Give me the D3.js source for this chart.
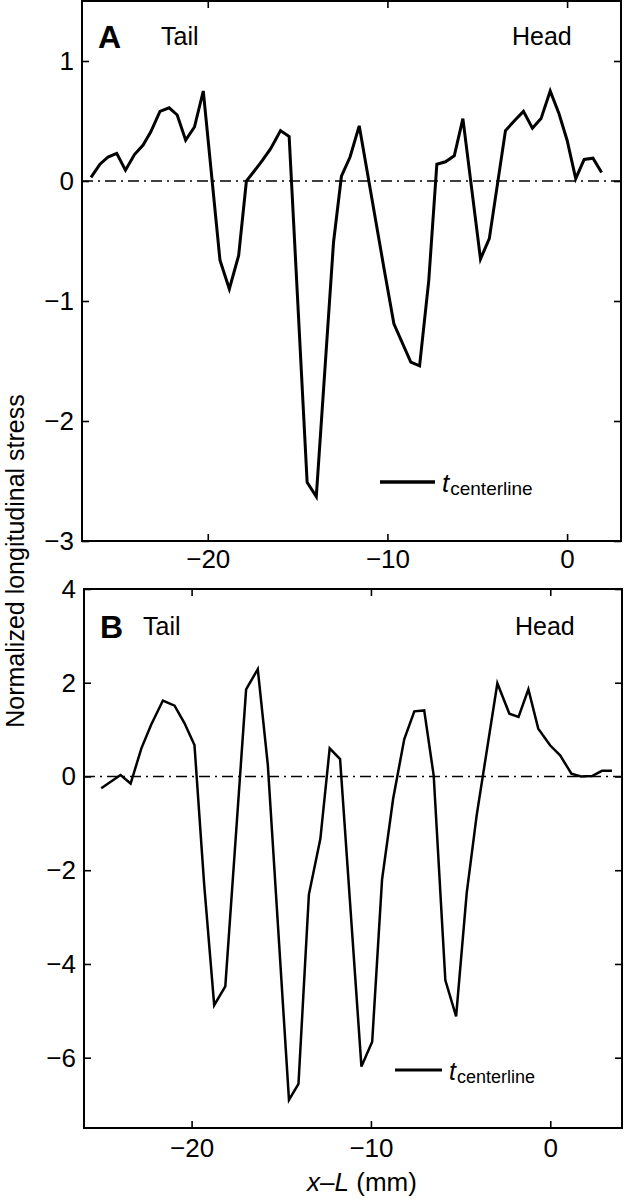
<!DOCTYPE html>
<html lang="en">
<head>
    <meta charset="UTF-8">
    <title>Normalized longitudinal stress</title>
    <script src="https://d3js.org/d3.v7.min.js"></script>
    <style>
        body { margin: 0; background: #fff; }
        svg { display: block; font-family: "Liberation Sans", Arial, Helvetica, sans-serif; }
        .frame { fill: none; stroke: #000; stroke-width: 2px; }
        .zero { stroke: #000; stroke-width: 1.3px; stroke-dasharray: 11,5,2,5; }
        .tick text { font-size: 26px; fill: #000; }
        .tick line { stroke: #000; stroke-width: 1.6px; }
        .lbl { font-size: 25px; fill: #000; }
    </style>
</head>
<body>
    <svg width="624" height="1200"></svg>
    <script>
        // panel A, stress along centerline (x-L in mm)
        const xA = [-26.5, -26.0, -25.55, -25.07, -24.58, -24.08, -23.6, -23.17, -22.66, -22.15,
                    -21.7, -21.23, -20.74, -20.25, -19.32, -18.8, -18.28, -17.85, -17.4, -16.97,
                    -16.5, -15.95, -15.47, -14.47, -13.96, -13.0, -12.56, -12.08, -11.57, -10.2,
                    -9.64, -8.7, -8.21, -7.7, -7.25, -6.77, -6.28, -5.8, -4.82, -4.33,
                    -3.43, -2.88, -2.43, -1.93, -1.45, -0.94, -0.45, 0.0, 0.48, 0.95, 1.44, 1.92];
        const yA = [0.03, 0.14, 0.20, 0.23, 0.09, 0.22, 0.30, 0.41, 0.58, 0.61,
                    0.55, 0.34, 0.45, 0.75, -0.66, -0.90, -0.62, 0.0, 0.085, 0.17,
                    0.27, 0.42, 0.37, -2.51, -2.63, -0.51, 0.04, 0.20, 0.46, -0.72,
                    -1.19, -1.51, -1.54, -0.83, 0.14, 0.16, 0.21, 0.52, -0.65, -0.48,
                    0.42, 0.51, 0.58, 0.44, 0.52, 0.75, 0.56, 0.34, 0.02, 0.18, 0.19, 0.07];

        // panel B
        const xB = [-25.04, -23.96, -23.4, -22.8, -22.25, -21.6, -20.95, -20.4, -19.84, -19.3,
                    -18.74, -18.12, -16.96, -16.31, -15.75, -14.57, -14.04, -13.46, -12.82, -12.3,
                    -11.72, -10.53, -9.93, -9.38, -8.76, -8.14, -7.58, -7.03, -6.5, -5.85,
                    -5.25, -4.66, -4.1, -2.95, -2.28, -1.77, -1.22, -0.67, 0.0, 0.55,
                    1.18, 1.71, 2.33, 2.88, 3.44];
        const yB = [-0.25, 0.03, -0.15, 0.6, 1.11, 1.62, 1.51, 1.14, 0.67, -2.3,
                    -4.88, -4.48, 1.86, 2.29, 0.25, -6.9, -6.56, -2.52, -1.33, 0.6,
                    0.37, -6.19, -5.66, -2.2, -0.47, 0.80, 1.39, 1.41, 0.02, -4.35,
                    -5.12, -2.49, -0.82, 1.99, 1.34, 1.27, 1.86, 1.02, 0.66, 0.45,
                    0.06, 0.0, 0.01, 0.12, 0.12];

        const xTicks = [-20, -10, 0];
        const yTicksA = [-3, -2, -1, 0, 1];
        const yTicksB = [-6, -4, -2, 0, 2, 4];

        const svg = d3.select("svg");
        const fmt = d3.format("d");

        function drawPanel(p) {
            const x = d3.scaleLinear().domain(p.xDomain).range([p.left, p.right]);
            const y = d3.scaleLinear().domain(p.yDomain).range([p.bottom, p.top]);
            const g = svg.append("g");
            const tk = 7;

            // inward ticks on all four sides
            g.append("g").attr("transform", `translate(0,${p.bottom})`)
                .call(d3.axisBottom(x).tickValues(xTicks).tickFormat(fmt)
                    .tickSizeInner(-tk).tickSizeOuter(0).tickPadding(p.xPad))
                .call(a => a.select(".domain").remove());
            g.append("g").attr("transform", `translate(0,${p.top})`)
                .call(d3.axisTop(x).tickValues(xTicks).tickSizeInner(-tk).tickSizeOuter(0).tickFormat(""))
                .call(a => a.select(".domain").remove());
            g.append("g").attr("transform", `translate(${p.left},0)`)
                .call(d3.axisLeft(y).tickValues(p.yTicks).tickFormat(fmt)
                    .tickSizeInner(-tk).tickSizeOuter(0).tickPadding(8))
                .call(a => a.select(".domain").remove());
            g.append("g").attr("transform", `translate(${p.right},0)`)
                .call(d3.axisRight(y).tickValues(p.yTicks).tickSizeInner(-tk).tickSizeOuter(0).tickFormat(""))
                .call(a => a.select(".domain").remove());

            g.selectAll(".tick text").attr("font-family", null).attr("font-size", null);

            g.append("line").attr("class", "zero")
                .attr("x1", p.left).attr("x2", p.right)
                .attr("y1", y(0)).attr("y2", y(0));

            const pts = p.xs.map((v, i) => [v, p.ys[i]]);
            g.append("path")
                .datum(pts)
                .attr("fill", "none")
                .attr("stroke", "#000")
                .attr("stroke-width", p.lw)
                .attr("stroke-linejoin", "miter")
                .attr("d", d3.line().x(d => x(d[0])).y(d => y(d[1])));

            g.append("rect").attr("class", "frame")
                .attr("x", p.left).attr("y", p.top)
                .attr("width", p.right - p.left).attr("height", p.bottom - p.top);

            // panel letter and orientation labels
            g.append("text").attr("x", p.left + 16).attr("y", p.labelY + 3)
                .attr("font-size", 32).attr("font-weight", "bold").text(p.letter);
            g.append("text").attr("class", "lbl").attr("x", p.tailX).attr("y", p.labelY).text("Tail");
            g.append("text").attr("class", "lbl").attr("x", p.headX).attr("y", p.labelY).text("Head");

            // legend
            g.append("line")
                .attr("x1", p.leg[0]).attr("x2", p.leg[1])
                .attr("y1", p.leg[2]).attr("y2", p.leg[2])
                .attr("stroke", "#000").attr("stroke-width", p.lw + 0.3);
            const t = g.append("text").attr("x", p.leg[1] + 7).attr("y", p.leg[2] + 10);
            t.append("tspan").attr("font-style", "italic").attr("font-size", p.legSize).text("t");
            t.append("tspan").attr("font-size", p.legSize - 7).attr("dy", 3).attr("dx", 1).text("centerline");
        }

        drawPanel({
            left: 82, right: 621, top: 1, bottom: 541,
            xDomain: [-27, 3], yDomain: [-3, 1.5],
            yTicks: yTicksA, xs: xA, ys: yA, lw: 3, xPad: 9,
            letter: "A", labelY: 45, tailX: 161, headX: 512,
            leg: [380, 435, 482], legSize: 26
        });

        drawPanel({
            left: 84, right: 622, top: 589, bottom: 1128,
            xDomain: [-26, 4], yDomain: [-7.5, 4],
            yTicks: yTicksB, xs: xB, ys: yB, lw: 2.5, xPad: 11,
            letter: "B", labelY: 635, tailX: 143, headX: 515,
            leg: [395, 442, 1070], legSize: 25
        });

        // shared axis titles
        svg.append("text")
            .attr("transform", "translate(24,561) rotate(-90)")
            .attr("text-anchor", "middle")
            .attr("font-size", 25)
            .text("Normalized longitudinal stress");

        const xl = svg.append("text")
            .attr("x", 362).attr("y", 1191)
            .attr("text-anchor", "middle")
            .attr("font-size", 26);
        xl.append("tspan").attr("font-style", "italic").text("x");
        xl.append("tspan").text("–");
        xl.append("tspan").attr("font-style", "italic").text("L");
        xl.append("tspan").text(" (mm)");
    </script>
</body>
</html>
